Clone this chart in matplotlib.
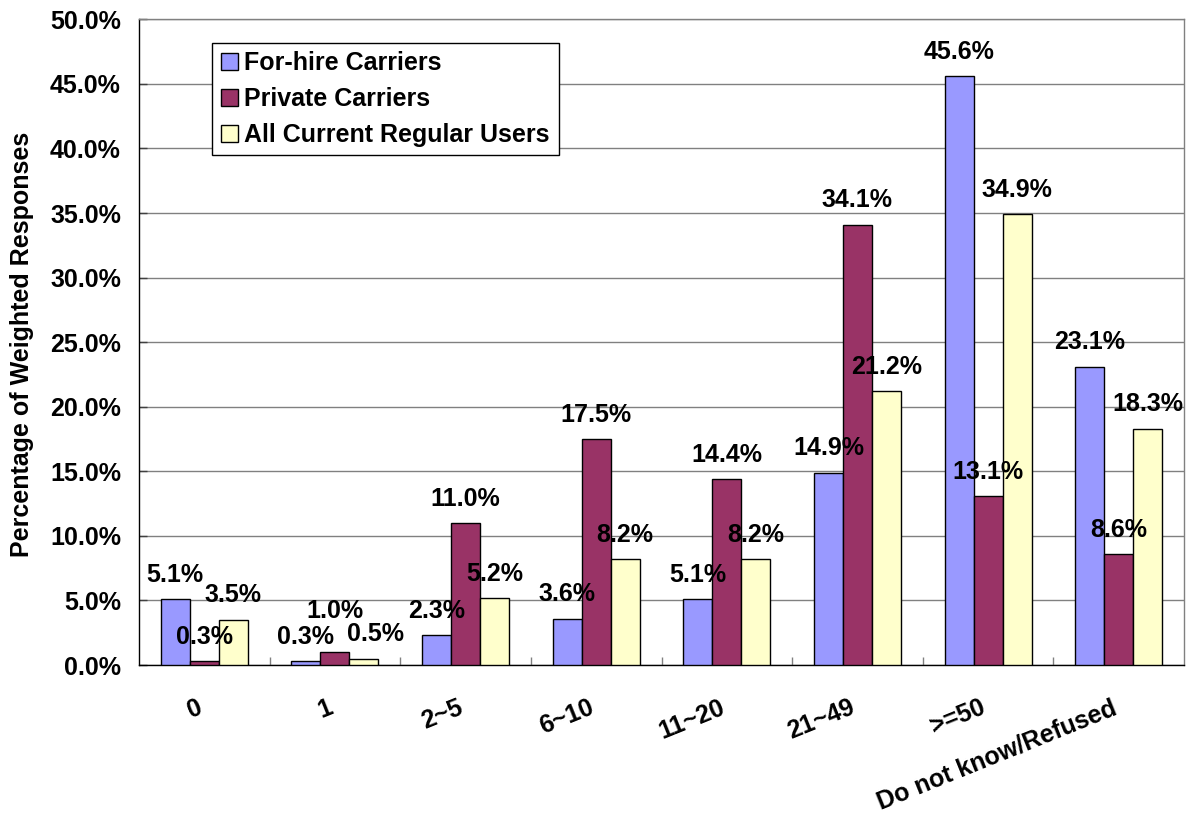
import matplotlib
matplotlib.use("Agg")
import matplotlib.pyplot as plt
import matplotlib.transforms as mtransforms
import numpy as np

plt.rcParams['font.family'] = ['Liberation Sans', 'DejaVu Sans']
plt.rcParams['font.weight'] = 'bold'

categories = ['0', '1', '2~5', '6~10', '11~20', '21~49', '>=50', 'Do not know/Refused']
series_names = ['For-hire Carriers', 'Private Carriers', 'All Current Regular Users']
for_hire = [5.1, 0.3, 2.3, 3.6, 5.1, 14.9, 45.6, 23.1]
private = [0.3, 1.0, 11.0, 17.5, 14.4, 34.1, 13.1, 8.6]
all_users = [3.5, 0.5, 5.2, 8.2, 8.2, 21.2, 34.9, 18.3]
colors = ['#9999FF', '#993366', '#FFFFCC']

# labels that were dragged in the original to clear neighbours: (series, group) -> (dx, dy) pt
label_nudge = {(1, 1): (0, 12), (2, 1): (8, 0)}

W, H = 1189, 813
fig = plt.figure(figsize=(W / 100, H / 100), dpi=100)
ax = fig.add_axes([139 / W, 1 - 665 / H, (1184 - 139) / W, (665 - 19.3) / H])

n = len(categories)
centers = np.arange(n) + 0.5
bw = 0.222
fs = 18

for k, (vals, name) in enumerate(zip([for_hire, private, all_users], series_names)):
    xs = centers + (k - 1) * bw
    ax.bar(xs, vals, width=bw, color=colors[k], edgecolor='black',
           linewidth=1.0, label=name, zorder=3)
    for i, (x, v) in enumerate(zip(xs, vals)):
        dx, dy = label_nudge.get((k, i), (0, 0))
        ax.annotate('%.1f%%' % v, (x, v), xytext=(dx, 17.5 + dy), textcoords='offset points',
                    ha='center', va='center', fontsize=fs, fontweight='bold', zorder=5)

ax.set_xlim(0, n)
ax.set_ylim(0, 50)
ax.set_yticks(np.arange(0, 50.1, 5))
ax.set_yticklabels(['%.1f%%' % t for t in np.arange(0, 50.1, 5)], fontsize=fs)
ax.yaxis.grid(True, color='#808080', linewidth=1.0, zorder=0)
ax.set_axisbelow(True)

ax.set_xticks(centers)
ax.set_xticklabels(categories, fontsize=fs, rotation=22, ha='right', rotation_mode='anchor')
ax.set_xticks(np.arange(1, n), minor=True)
ax.tick_params(axis='x', which='major', length=0, pad=22)
ax.tick_params(axis='x', which='minor', direction='in', length=6, color='#808080', width=1)
ax.tick_params(axis='y', direction='in', length=6, pad=13, color='#404040', width=1)

shift = mtransforms.ScaledTranslation(-8 / 100, 0, fig.dpi_scale_trans)
for lab in ax.get_xticklabels():
    lab.set_transform(lab.get_transform() + shift)

ax.spines['left'].set_color('black')
ax.spines['bottom'].set_color('black')
ax.spines['top'].set_color('#808080')
ax.spines['right'].set_color('#808080')
for s in ax.spines.values():
    s.set_linewidth(1.0)

fig.text(22 / W, 1 - 344 / H, 'Percentage of Weighted Responses', rotation=90,
         ha='center', va='center', fontsize=18, fontweight='bold')

leg = ax.legend(loc='upper left', bbox_to_anchor=(212 / W, 1 - 43 / H),
                bbox_transform=fig.transFigure, borderaxespad=0, fontsize=fs,
                frameon=True, fancybox=False, framealpha=1, edgecolor='black',
                handlelength=0.68, handleheight=0.68, handletextpad=0.28,
                borderpad=0.34, labelspacing=0.47)
leg.get_frame().set_linewidth(1.0)
leg.set_zorder(10)

fig.savefig('out.png', dpi=100)
